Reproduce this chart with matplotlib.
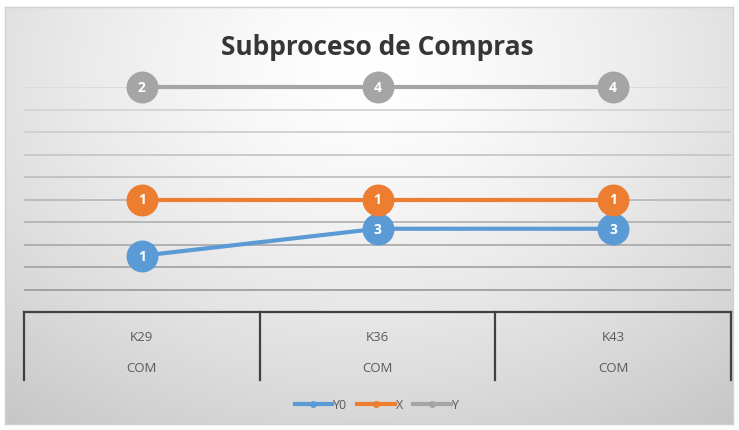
import numpy as np
import matplotlib.pyplot as plt
from matplotlib.lines import Line2D
import matplotlib.transforms as mtransforms

plt.rcParams['font.family'] = ['Open Sans', 'DejaVu Sans']

# data
categories = ["K29", "K36", "K43"]
group_label = "COM"
series_names = ["Y0", "X", "Y"]
y0_values = [1.5, 2.7, 2.7]
x_values = [4.0, 4.0, 4.0]
y_values = [9.0, 9.0, 9.0]
y0_labels = ["1", "3", "3"]
x_labels = ["1", "1", "1"]
y_labels = ["2", "4", "4"]
colors = ["#5B9BD5", "#ED7D31", "#A5A5A5"]


def main():
    fig = plt.figure(figsize=(7.39, 4.31), dpi=100)

    # chart area background: soft radial gradient with thin border
    bg = fig.add_axes([5 / 739, 1 - 425 / 431, 728 / 739, 417 / 431], zorder=-5)
    yy, xx = np.mgrid[0:1:200j, 0:1:300j]
    d = np.sqrt(((xx - 0.5) / 0.75) ** 2 + ((yy - 0.15) / 1.0) ** 2)
    shade = 1.0 - 0.2 * np.clip(d, 0, 1.2) ** 1.4
    bg.imshow(np.dstack([shade] * 3), aspect='auto', extent=[0, 1, 1, 0])
    bg.set_xticks([])
    bg.set_yticks([])
    for s in bg.spines.values():
        s.set_color("#d0d0d0")
        s.set_linewidth(1.0)

    ax = fig.add_axes([24 / 739, 1 - 313 / 431, 707 / 739, 225 / 431])
    ax.set_facecolor("none")
    ax.set_xlim(-0.5, len(categories) - 0.5)
    ax.set_ylim(-1, 9)

    # gridlines, darker towards the bottom
    for level in range(0, 10):
        g = 0.62 + 0.24 * level / 9
        ax.axhline(level, color=(g, g, g), lw=1.3, zorder=1)

    x = np.arange(len(categories))
    all_series = [(y0_values, y0_labels), (x_values, x_labels), (y_values, y_labels)]
    for (vals, labs), name, c in zip(all_series, series_names, colors):
        ax.plot(x, vals, color=c, lw=3, marker='o', markersize=23,
                markeredgewidth=0, label=name, zorder=3, clip_on=False)
        for xi, v, lab in zip(x, vals, labs):
            ax.text(xi, v, lab, color="white", fontsize=10, fontweight='bold',
                    ha='center', va='center', zorder=4)

    for s in ["top", "right", "left"]:
        ax.spines[s].set_visible(False)
    ax.spines["bottom"].set_color("#404040")
    ax.spines["bottom"].set_linewidth(1.6)
    ax.set_xticks([])
    ax.set_yticks([])

    # two-level category axis
    trans = mtransforms.blended_transform_factory(ax.transData, ax.transAxes)
    for b in np.arange(len(categories) + 1) - 0.5:
        ax.plot([b, b], [0, -0.3], color="#404040", lw=1.6, transform=trans,
                clip_on=False)
    for xi, cat in zip(x, categories):
        ax.text(xi, -0.107, cat, transform=trans, ha='center', va='center',
                fontsize=9.5, color="#595959")
        ax.text(xi, -0.245, group_label, transform=trans, ha='center',
                va='center', fontsize=9.5, color="#595959")

    ax.set_title("Subproceso de Compras", fontsize=19, fontweight='bold',
                 color="#363636", y=1.11)

    handles = [Line2D([], [], color=c, lw=3, marker='o', markersize=4)
               for c in colors]
    fig.legend(handles, series_names, loc='center', ncol=3,
               bbox_to_anchor=(0.51, 1 - 406 / 431), frameon=False,
               fontsize=9, handlelength=3.0, handletextpad=0.1,
               columnspacing=0.8, labelcolor="#595959")

    fig.savefig("out.png", dpi=100)


if __name__ == '__main__':
    main()
